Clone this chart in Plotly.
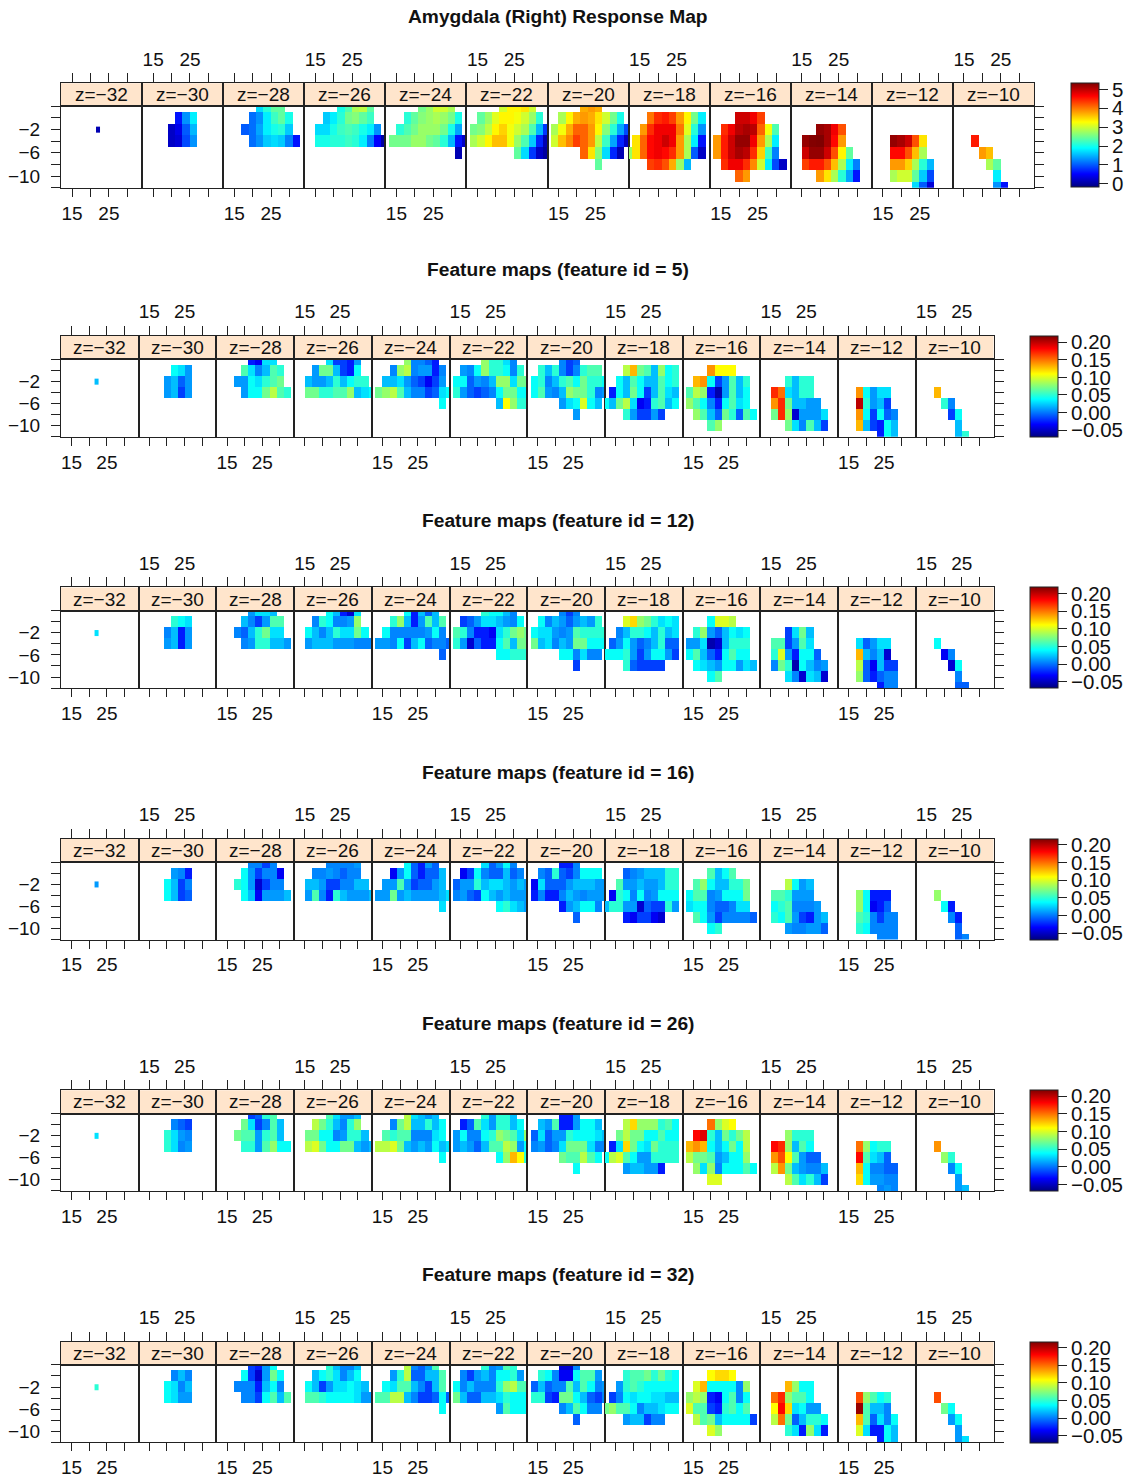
import plotly.graph_objects as go

W, H = 1135, 1479

z_levels = [-32, -30, -28, -26, -24, -22, -20, -18, -16, -14, -12, -10]
x_ticks = [15, 20, 25, 30]
y_ticks = [2, 0, -2, -4, -6, -8, -10, -12]

# voxels present in every slice: (y, first x, last x)
voxels = {
    -32: [(-2, 22, 22)],
    -30: [(0, 22, 26), (-2, 20, 26), (-4, 20, 26)],
    -28: [(2, 22, 28), (0, 20, 30), (-2, 18, 30), (-4, 20, 32)],
    -26: [(2, 22, 30), (0, 18, 30), (-2, 16, 32), (-4, 16, 34)],
    -24: [(2, 22, 30), (0, 18, 32), (-2, 16, 32), (-4, 14, 34), (-6, 32, 32)],
    -22: [(2, 22, 30), (0, 16, 32), (-2, 14, 34), (-4, 14, 34), (-6, 26, 34)],
    -20: [(2, 22, 26), (0, 16, 32), (-2, 14, 34), (-4, 14, 34), (-6, 22, 32), (-8, 26, 26)],
    -18: [(0, 18, 32), (-2, 16, 32), (-4, 14, 32), (-6, 12, 32), (-8, 18, 28)],
    -16: [(0, 20, 26), (-2, 16, 30), (-4, 14, 30), (-6, 14, 30), (-8, 16, 32), (-10, 20, 22)],
    -14: [(-2, 20, 26), (-4, 16, 26), (-6, 16, 28), (-8, 16, 30), (-10, 20, 30)],
    -12: [(-4, 18, 26), (-6, 18, 26), (-8, 18, 28), (-10, 18, 28), (-12, 24, 28)],
    -10: [(-4, 18, 18), (-6, 20, 22), (-8, 22, 24), (-10, 24, 24), (-12, 24, 26)],
}

# response values, tenths
response_map = [
    [[1]],
    [[6, 13, 18], [2, 4, 10, 15], [2, 3, 9, 13]],
    [[17, 21, 24, 24], [11, 13, 18, 22, 24, 20], [10, 11, 14, 18, 20, 21, 16], [11, 13, 16, 17, 16, 12, 6]],
    [[20, 23, 28, 29, 24], [16, 18, 21, 25, 26, 24, 22], [17, 17, 20, 22, 23, 22, 20, 18, 13],
     [20, 20, 21, 21, 22, 21, 18, 12, 5, 0]],
    [[25, 27, 30, 30, 28], [21, 24, 26, 27, 28, 27, 25, 20], [21, 23, 25, 27, 27, 27, 25, 20, 14],
     [25, 25, 25, 27, 27, 25, 24, 21, 15, 6, 2], [1]],
    [[30, 33, 33, 34, 30], [24, 27, 31, 33, 33, 32, 30, 27, 21], [25, 26, 29, 33, 35, 32, 30, 28, 23, 15, 8],
     [28, 30, 33, 36, 36, 32, 27, 23, 16, 7, 1], [24, 17, 8, 2, 0]],
    [[37, 38, 37], [28, 33, 37, 38, 37, 34, 30, 25, 20], [28, 32, 37, 41, 41, 38, 33, 26, 21, 14, 9],
     [30, 36, 39, 43, 41, 38, 29, 22, 14, 7, 2], [41, 34, 26, 17, 7, 1], [24]],
    [[40, 44, 45, 43, 38, 33, 25, 18], [38, 44, 47, 47, 47, 40, 31, 21, 13], [34, 41, 46, 47, 49, 47, 38, 28, 18, 6],
     [27, 34, 41, 46, 47, 46, 44, 38, 28, 10, 2], [43, 44, 42, 37, 27, 15]],
    [[49, 49, 47, 43], [44, 47, 50, 51, 50, 41, 32, 23], [38, 45, 49, 52, 52, 47, 38, 28, 18],
     [38, 45, 49, 51, 50, 44, 35, 22, 12], [44, 47, 47, 44, 39, 30, 18, 9, 2], [41, 38]],
    [[52, 51, 47, 42], [52, 53, 54, 51, 46, 38], [49, 52, 52, 49, 42, 33, 24],
     [43, 45, 45, 42, 36, 28, 18, 12], [38, 34, 28, 21, 14, 6]],
    [[52, 51, 49, 42, 34], [46, 46, 42, 36, 28], [38, 38, 35, 28, 21, 15], [28, 30, 30, 24, 16, 9], [17, 10, 3]],
    [[45], [38, 36], [28, 24], [18], [13, 6]],
]

# feature values below, hundredths
feature_5 = [
    [[2]],
    [[4, 3, 1], [1, 2, -1, 1], [1, 2, -2, 1]],
    [[-3, -4, 3, 3], [6, 3, 0, 2, 6, 5], [1, 1, 4, 3, 5, 6, 7], [1, 4, 4, 7, 9, 6, 5]],
    [[3, -2, -2, -3, 1], [1, 7, 7, 2, -2, -3, 4], [2, 1, 1, 2, 5, 2, 4, 5, 5], [7, 7, 5, 5, 6, 6, 8, 2, 3, 4]],
    [[8, 0, 0, -1, -3], [0, 8, 9, 0, 1, 1, -3, 0], [2, 2, 3, 1, -1, -2, -4, -2, 1],
     [7, 8, 9, 6, 2, 0, 0, -2, -1, 3, 4], [4]],
    [[8, 5, 5, 3, 0], [1, 0, 4, 8, 5, 5, 4, 0, 5], [4, 4, -1, 1, 0, 2, 8, 8, 3, 7, 7],
     [5, 1, -1, -2, -1, 0, 4, 7, 7, 4, 4], [2, 11, 8, 5, 5]],
    [[0, -2, -1], [5, 2, 5, 0, -2, 0, 5, 6, 6], [4, 5, 0, 2, 5, 6, 4, 7, 5, 5, 4],
     [4, 6, 1, 0, 2, 8, 7, 7, 5, 0, 1], [1, 3, 4, 10, 4, 2], [1]],
    [[9, 13, 7, 6, 2, 8, 4, 5], [4, 2, 6, 4, 2, 2, 6, 4, 5], [-3, 4, 2, 7, 4, -2, 2, 6, 3, 2],
     [4, 2, 7, 9, 3, -4, -3, 5, 6, 2, 4], [5, 1, -2, -2, 1, -2]],
    [[14, 11, 11, 11], [13, 14, 4, -2, 1, 6, 2, 5], [6, 9, 8, -3, -6, 1, 6, 2, 4],
     [8, 6, 4, 0, -3, 4, 6, 3, 4], [8, 6, 2, -1, 7, 5, -1, 6, 4], [6, 8]],
    [[5, 2, 5, 5], [17, 15, 3, 2, 5, 5], [14, 17, 7, 2, 2, 1, 1], [7, 17, 8, -5, 1, 1, 1, 3], [7, 3, 0, 6, 2, -2]],
    [[14, 4, 1, 3, 3], [20, 5, 1, 2, -2], [14, 4, -2, 4, -1, 0], [13, 2, -2, -3, 4, 2], [-3, 4, 2]],
    [[13], [5, 0], [-2, 4], [2], [2, 5]],
]

feature_12 = [
    [[3]],
    [[5, 4, 3], [0, 2, -3, 1], [1, 2, -3, 1]],
    [[1, 3, 3, 2], [2, 0, -2, 1, 6, 6], [0, -1, 2, 5, 7, 3, 3], [0, 1, 5, 5, 2, 2, 1]],
    [[4, 2, -3, -5, 3], [0, 5, 4, 0, 0, 1, 8], [4, 2, 0, 2, 5, 3, 3, 7, 4], [1, 2, 2, 2, 1, 1, 1, 0, 0, 0]],
    [[4, -3, 2, -1, 2], [5, 8, 2, -3, 1, 6, 2, 6], [4, 0, 0, 0, 0, 0, 1, 4, 0],
     [1, 1, 0, 4, -2, 2, 4, -1, 0, 0, -1], [-1]],
    [[5, 4, 4, 2, 0], [-2, -1, 1, 3, 3, 2, 1, 0, 4], [6, 5, 0, -3, -3, -4, 3, 5, 7, 8, 7],
     [5, 1, -5, -1, -3, -3, 4, 6, 2, 7, 7], [4, 4, 5, 5, 5]],
    [[0, -2, 0], [4, 0, 2, 1, -1, 1, 2, 1, 5], [4, 3, 3, 1, 0, 1, 6, 5, 5, 5, 5],
     [7, 2, 3, 0, 2, 1, 7, 7, 4, 4, 4], [4, 4, 0, 3, 0, 0], [-2]],
    [[10, 12, 8, 7, 5, 3, 4, 3], [0, 2, 5, 5, 4, 2, 5, 2, 3], [-1, 1, 4, 1, -1, 0, 2, 5, -1, -1],
     [4, 4, 4, 5, 1, -2, 1, 4, 4, 1, -2], [5, -1, -2, -2, -2, -2]],
    [[4, 10, 10, 9], [5, 8, 1, -1, 2, 4, 3, 4], [1, 1, 3, -6, -5, 2, 5, 5, 5],
     [4, 6, 2, -1, -3, 4, 6, 4, 4], [4, 3, 2, 1, 4, 4, 1, 3, 2], [4, 6]],
    [[-2, 3, 7, 2], [6, 6, -2, 1, 6, 3], [5, 10, 1, -3, 4, 4, -1], [0, 7, 5, -6, 4, 2, 0, 1], [3, 0, -5, 3, 2, -5]],
    [[3, -1, 1, 3, 3], [13, 2, 0, 2, -5], [9, -1, -4, 2, -2, -2], [8, -1, -3, -1, 0, 0], [-3, 0, 0]],
    [[4], [-4, 0], [-5, 4], [0], [-1, -1]],
]

feature_16 = [
    [[1]],
    [[1, 0, -3], [4, 2, -2, 0], [4, 2, -2, -1]],
    [[0, 0, -2, 0], [4, 1, -2, 0, 0, -4], [5, 4, 1, -5, -2, 0, 0], [4, 2, -4, 1, 1, 1, 2]],
    [[0, 0, 0, 0, 1], [0, 0, 1, 0, -1, 0, 0], [2, 2, 1, -2, -2, 0, 0, 2, 2], [1, 6, 0, -3, 5, 2, 1, 1, 1, 2]],
    [[4, -1, -3, 1, -1], [-4, 1, 4, -1, -3, -1, -1, 2], [1, 1, 6, 1, -2, -1, -1, 1, 2],
     [1, 1, 7, 1, 2, 1, 1, 1, 1, 2, 3], [3]],
    [[3, -1, 1, 4, 0], [-4, -2, 4, 0, -1, -1, 2, -1, 0], [-1, 1, 1, 5, 2, 3, 3, 2, 1, 2, 1],
     [0, 1, -1, -2, 4, 2, 1, 2, 1, 1, 1], [4, 5, 3, 2, 1]],
    [[-3, -3, 0], [0, -1, 5, -1, -2, 0, 4, 4, 4], [-4, 3, -1, -1, -1, 1, 2, 2, 2, 1, 1],
     [-3, 0, -3, -3, 0, 2, 1, 0, 1, 1, 1], [-3, 1, 2, 4, 4, 0], [-1]],
    [[-1, 0, 1, 2, 2, 2, 5, 5], [6, 1, 1, 2, 1, 1, 2, 5, 5], [-4, 5, 4, 0, 4, 0, 1, 4, 4, 4],
     [2, 5, 5, 1, 1, -5, -1, -2, -2, 5, 1], [-3, -4, -2, -2, -4, -5]],
    [[6, 2, 4, 6], [6, 8, 4, 2, 2, 5, 5, 7], [4, 6, 6, 0, 1, 4, 4, 4, 7],
     [3, 4, 4, 0, -1, -1, 0, 3, 3], [6, 4, 1, -2, 0, 0, 0, 0, -1], [4, 5]],
    [[9, 4, 1, 2], [6, 6, 5, 1, 1, 1], [4, 5, 6, 0, 0, 0, 1], [5, 4, 6, 1, -2, -3, 1, 2], [1, 0, 0, 1, 1, -1]],
    [[8, 4, -3, -3, -3], [8, 4, -4, -3, -1], [6, 5, 0, -2, 0, 0], [5, 4, 0, 0, 0, 0], [0, 0, 0]],
    [[8], [4, -3], [0, -3], [-1], [-1, 0]],
]

feature_26 = [
    [[3]],
    [[0, -1, -2], [5, 3, 1, 0], [5, 3, 0, 1]],
    [[-2, -1, 5, 6], [7, 3, -2, 0, 6, 2], [7, 6, 6, 1, 5, 6, 2], [5, 5, 1, 6, 8, 4, 4]],
    [[6, 3, 1, 1, 2], [9, 7, 5, 2, 0, 5, 8], [7, 7, 4, 4, 0, 1, 5, 5, 2], [9, 10, 7, 4, 4, 7, 7, 2, 1, 2]],
    [[9, 3, 2, 1, 2], [0, 7, 9, 2, 2, 5, 2, 4], [6, 5, 6, 6, 0, 0, 0, 3, 4],
     [9, 9, 10, 7, 2, 1, 2, 1, 4, 2, 3], [4]],
    [[5, 1, 5, 5, 2], [-3, -1, 6, 3, 1, 5, 5, 2, 4], [1, 4, 0, 0, 4, 5, 8, 7, 6, 3, 8],
     [1, 2, 1, -1, 2, 6, 6, 9, 8, 1, 4], [4, 8, 13, 11, 5]],
    [[-3, -3, 1], [2, 1, 6, -3, -3, 1, 4, 4, 2], [-1, 3, -1, 1, 1, 5, 4, 4, 4, 3, 2],
     [0, 1, -1, 0, 3, 7, 7, 7, 3, 0, 0], [7, 6, 6, 9, 6, 4], [4]],
    [[9, 12, 8, 8, 8, 5, 6, 4], [7, 9, 7, 7, 4, 4, 6, 4, 4], [-3, 3, 12, 7, 4, 3, 7, 5, 5, 5],
     [4, 9, 10, 6, 4, 1, 1, 5, 5, 5, 5], [1, 2, 2, 1, 1, -3]],
    [[15, 8, 10, 11], [18, 19, 5, 2, 7, 5, 7, 9], [13, 14, 13, 4, 2, 4, 7, 4, 9],
     [9, 7, 7, 6, 1, 2, 4, 4, 8], [8, 3, 8, 0, 4, 4, 4, 6, 4], [10, 10]],
    [[8, 5, 5, 5], [18, 17, 8, 2, 6, 4], [14, 16, 11, 6, 1, -1, -1], [9, 14, 7, 2, 1, 0, 0, 2], [9, 6, 3, 5, 2, -2]],
    [[15, 8, 4, 5, 5], [18, 6, 3, 2, -1], [13, 4, 0, 0, -1, -1], [12, 4, 1, 1, 0, 0], [0, 1, 0]],
    [[14], [8, 5], [0, 4], [1], [1, 2]],
]

feature_32 = [
    [[5]],
    [[0, 2, 0], [4, 3, 0, 2], [4, 3, 1, 1]],
    [[-2, -3, 1, 4], [4, -2, -5, 1, 7, 4], [0, 0, 0, -3, 2, 4, 0], [0, 0, -2, 4, 6, 2, 6]],
    [[5, 2, 0, 0, 2], [2, 4, 5, 3, 0, 2, 4], [4, 2, -2, 1, 3, 3, 4, 3, 2], [6, 6, 5, 4, 4, 4, 4, 3, 1, 1]],
    [[9, 0, -1, 1, 6], [1, 5, 9, -1, -1, 2, 2, 6], [4, 3, 6, 6, 2, 0, -2, 2, 6],
     [6, 6, 9, 9, 2, 0, -2, -2, -1, 4, -1], [4]],
    [[5, 0, 1, 6, 5], [0, -2, 1, 2, 0, 4, 4, 5, 1], [4, 0, 2, 0, 0, 0, 5, 8, 9, 6, 6],
     [7, 2, -1, -1, 2, 2, 3, 5, 4, 4, 4], [1, 6, 4, 4, 4]],
    [[-5, -5, 0], [5, 4, 0, -4, -4, 4, 6, 6, 1], [-1, 2, -1, 0, 0, 6, 2, 6, 4, 0, 1],
     [5, 5, -2, -3, 7, 7, 4, 2, -1, -2, 0], [0, 2, 6, 4, 0, 0], [-1]],
    [[5, 6, 6, 7, 5, 7, 5, 4], [1, 5, 6, 5, 4, 4, 4, 4, 4], [-2, 0, 4, 3, 4, 4, 3, 3, 2, 2],
     [7, 8, 6, 6, 4, 0, 2, 2, 3, 4, 4], [1, 2, 2, -2, 0, 0]],
    [[11, 12, 12, 11], [10, 13, 4, 4, 4, 4, 0, 8], [8, 9, 8, -3, -4, 4, 6, 0, 4],
     [10, 6, 6, -2, -3, 5, 6, 4, 6], [9, 6, 7, 2, 4, 4, 4, 4, -2], [10, 8]],
    [[13, 8, 4, 4], [15, 17, 8, 6, 6, 4], [11, 18, 12, 3, 4, 1, 1], [9, 15, 7, -1, 2, 5, 5, 4], [5, 3, -3, 8, 3, -3]],
    [[16, 8, 6, 4, 5], [21, 6, 2, 2, 0], [13, 6, -1, 3, 0, 4], [10, 3, -3, -3, 4, 2], [-3, 4, 2]],
    [[16], [7, 4], [1, 4], [1], [1, 3]],
]

titles = ["Amygdala (Right) Response Map", "Feature maps (feature id = 5)", "Feature maps (feature id = 12)",
          "Feature maps (feature id = 16)", "Feature maps (feature id = 26)", "Feature maps (feature id = 32)"]
maps = [response_map, feature_5, feature_12, feature_16, feature_26, feature_32]
scales = [0.1, 0.01, 0.01, 0.01, 0.01, 0.01]
# the feature values at or below zero were read a little low off the blue end of the colour key
low_end_reading_bias = [0, 0.4, 0.4, 0.4, 0.4, 0.4]
color_limits = [(-0.18, 5.32), (-0.069, 0.217), (-0.069, 0.217), (-0.069, 0.217), (-0.069, 0.217), (-0.069, 0.217)]
bar_vals = [[0, 1, 2, 3, 4, 5]] + [[-0.05, 0, 0.05, 0.10, 0.15, 0.20]] * 5
bar_text = [["0", "1", "2", "3", "4", "5"]] + [["\u22120.05", "0.00", "0.05", "0.10", "0.15", "0.20"]] * 5

# pixel layout of each block
title_y = [17, 269, 520, 772, 1023, 1274]
strip_top = [83.3, 336.0, 587.4, 838.8, 1090.2, 1341.6]
panel_top = [106.3, 359.3, 610.7, 862.1, 1113.5, 1364.9]
panel_bot = [187.7, 436.7, 688.1, 939.5, 1190.9, 1442.3]
grid_right = [1034, 993.5, 993.5, 993.5, 993.5, 993.5]
bar_left = [1071, 1030, 1030, 1030, 1030, 1030]
GRID_LEFT = 61

jet = [[0, "#00007F"], [0.125, "#0000FF"], [0.375, "#00FFFF"], [0.625, "#FFFF00"], [0.875, "#FF0000"], [1, "#7F0000"]]
FONT = "Liberation Sans, Arial, sans-serif"
TICK = 19


def px(v):
    return v / W


def py(v):
    return 1 - v / H


def build_grid(z, rows, scale, bias):
    def value(v):
        return (v + bias if v <= 0 else v) * scale

    if z == -32:
        return [22], [-2], [[value(rows[0][0])]]
    xs = list(range(12, 36, 2))
    ys = list(range(2, -14, -2))
    grid = [[None] * len(xs) for _ in ys]
    for (y, x0, x1), vals in zip(voxels[z], rows):
        for k, x in enumerate(range(x0, x1 + 2, 2)):
            grid[ys.index(y)][xs.index(x)] = value(vals[min(k, len(vals) - 1)])
    return xs, ys, grid


fig = go.Figure()
layout = {}
annotations = []
shapes = []
n = 0

for r in range(6):
    width = (grid_right[r] - GRID_LEFT) / 12
    ca = "coloraxis" if r == 0 else f"coloraxis{r + 1}"
    layout[ca] = dict(
        cmin=color_limits[r][0], cmax=color_limits[r][1], colorscale=jet,
        colorbar=dict(
            x=px(bar_left[r]), xanchor="left", xpad=0, ypad=0,
            y=py(strip_top[r]), yanchor="top", lenmode="pixels", len=panel_bot[r] - strip_top[r],
            thickness=28, outlinewidth=1, outlinecolor="#222222", ticks="outside", ticklen=9, tickwidth=1,
            tickcolor="#222222", tickvals=bar_vals[r], ticktext=bar_text[r],
            tickfont=dict(family=FONT, size=20.5, color="#111111"),
        ),
    )
    annotations.append(dict(text=f"<b>{titles[r]}</b>", x=px(558), y=py(title_y[r]), xref="paper", yref="paper",
                            showarrow=False, xanchor="center", yanchor="middle",
                            font=dict(family=FONT, size=19.2, color="#111111")))
    for c, z in enumerate(z_levels):
        left, right = GRID_LEFT + c * width, GRID_LEFT + (c + 1) * width
        n += 1
        a, b = n, n + 1
        n += 1
        xs, ys, grid = build_grid(z, maps[r][c], scales[r], low_end_reading_bias[r])
        fig.add_trace(go.Heatmap(x=xs, y=ys, z=grid, coloraxis=ca, xaxis=f"x{a}", yaxis=f"y{a}",
                                 hoverinfo="skip", hoverongaps=False))
        # empty trace so that the strip's own axes are drawn
        fig.add_trace(go.Scatter(x=[None], y=[None], mode="markers", xaxis=f"x{b}", yaxis=f"y{b}",
                                 hoverinfo="skip", showlegend=False))
        common = dict(domain=[px(left), px(right)], range=[12, 34], showgrid=False, zeroline=False,
                      showline=True, linecolor="#222222", linewidth=1, mirror=True, ticks="outside",
                      ticklen=9, tickwidth=1, tickcolor="#222222", tickvals=x_ticks,
                      ticktext=["15", "", "25", ""], tickfont=dict(family=FONT, size=TICK, color="#111111"),
                      ticklabelstandoff=0)
        layout[f"xaxis{a}"] = dict(common, anchor=f"y{a}", side="bottom", showticklabels=c % 2 == 0, ticklen=8)
        layout[f"xaxis{b}"] = dict(common, anchor=f"y{b}", side="top", showticklabels=c % 2 == 1)
        y_main = dict(domain=[py(panel_bot[r]), py(panel_top[r])], range=[-12, 2], anchor=f"x{a}", showgrid=False,
                      zeroline=False, showline=True, linecolor="#222222", linewidth=1, mirror=True,
                      tickvals=y_ticks, ticktext=["", "", "\u22122", "", "\u22126", "", "\u221210", ""],
                      tickfont=dict(family=FONT, size=TICK, color="#111111"), ticklen=9, tickwidth=1,
                      tickcolor="#222222", ticklabelstandoff=7)
        if c == 0:
            y_main.update(ticks="outside", side="left", showticklabels=True)
        elif c == 11:
            y_main.update(ticks="outside", side="right", showticklabels=False)
        else:
            y_main.update(ticks="", showticklabels=False)
        layout[f"yaxis{a}"] = y_main
        layout[f"yaxis{b}"] = dict(domain=[py(panel_top[r]), py(strip_top[r])], range=[0, 1], anchor=f"x{b}",
                                   showgrid=False, zeroline=False, showline=True, linecolor="#222222", linewidth=1,
                                   mirror=True, ticks="", showticklabels=False)
        shapes.append(dict(type="rect", xref="paper", yref="paper", x0=px(left), x1=px(right),
                           y0=py(panel_top[r]), y1=py(strip_top[r]), fillcolor="#FFE5CC", line_width=0, layer="below"))
        annotations.append(dict(text=f"z=\u2212{abs(z)}", x=px((left + right) / 2),
                                y=py((strip_top[r] + panel_top[r]) / 2), xref="paper", yref="paper",
                                showarrow=False, xanchor="center", yanchor="middle",
                                font=dict(family=FONT, size=TICK, color="#111111")))

fig.update_layout(width=W, height=H, margin=dict(l=0, r=0, t=0, b=0, autoexpand=False), paper_bgcolor="white",
                  plot_bgcolor="rgba(0,0,0,0)", showlegend=False, annotations=annotations, shapes=shapes, **layout)
fig.write_html("out.html", config=dict(displayModeBar=False), post_script="document.body.style.margin='0';")
